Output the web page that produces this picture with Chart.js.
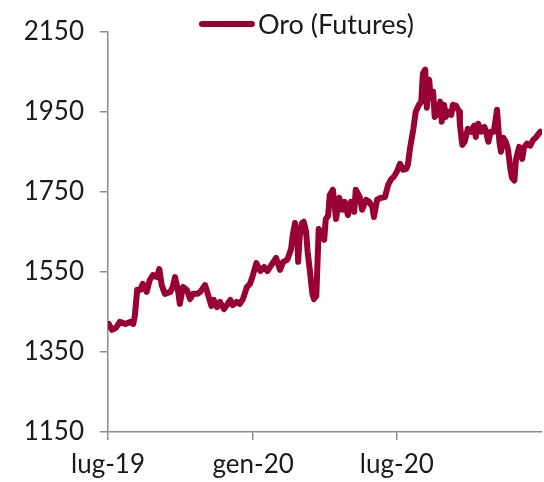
<!DOCTYPE html>
<html>
<head>
<meta charset="utf-8">
<script src="https://cdn.jsdelivr.net/npm/chart.js@4.4.1/dist/chart.umd.min.js"></script>
<style>
  html, body { margin: 0; padding: 0; background: #ffffff; }
  #wrap { width: 544px; height: 482px; position: relative; }
</style>
</head>
<body>
<div id="wrap"><canvas id="c"></canvas></div>
<script>
// Days elapsed since 1 Jul 2019
const days = [1,5,10,15,22,28,32,34,37,41,44,49,53,57,62,65,68,72,79,82,85,89,91,95,100,104,108,113,117,123,127,131,134,138,142,147,151,155,158,163,167,171,176,180,183,188,193,198,202,208,213,218,222,227,229,232,234,237,240,241,243,246,248,251,253,256,259,261,264,266,267,271,274,276,279,281,285,289,293,297,300,304,308,312,314,319,322,327,331,335,337,341,346,351,355,359,362,366,370,374,378,380,383,387,390,394,397,399,402,404,407,409,412,414,417,421,423,426,428,431,435,437,441,445,446,449,452,456,460,464,466,469,473,477,479,482,485,489,493,496,498,501,504,507,510,512,515,517,521,525,527,531,535,539,542,548];
// Gold futures price (USD/oz)
const prices = [1420,1405,1410,1425,1420,1425,1420,1440,1505,1505,1520,1500,1530,1542,1537,1557,1517,1495,1500,1512,1537,1500,1470,1512,1505,1482,1495,1495,1500,1517,1492,1465,1480,1462,1475,1457,1468,1480,1467,1475,1470,1482,1512,1520,1537,1572,1552,1562,1552,1570,1585,1555,1575,1580,1590,1607,1640,1672,1630,1575,1640,1672,1675,1650,1600,1550,1495,1482,1490,1600,1657,1645,1630,1682,1690,1742,1755,1682,1735,1705,1725,1692,1725,1700,1755,1737,1705,1730,1725,1712,1687,1730,1735,1737,1767,1782,1787,1800,1820,1805,1807,1817,1862,1907,1950,1967,1975,2045,2055,1960,2030,1985,2000,1937,1945,1975,1925,1967,1937,1950,1942,1967,1965,1950,1917,1867,1875,1907,1900,1915,1887,1920,1900,1912,1900,1875,1900,1900,1955,1875,1850,1885,1875,1855,1805,1785,1778,1830,1862,1832,1860,1870,1865,1880,1885,1900];
// X tick positions (days since 1 Jul 2019) and labels
const tickDays = [0, 184, 366];
const tickLabels = ['lug-19', 'gen-20', 'lug-20'];
const seriesLabel = 'Oro (Futures)';

const lineColor = '#990033';
const axisColor = '#8c8c8c';
const fontFamily = 'Lato, "Open Sans", sans-serif';

const points = days.map((d, i) => ({ x: d, y: prices[i] }));

const customLegend = {
  id: 'customLegend',
  afterDraw(chart) {
    const ctx = chart.ctx;
    const ds = chart.data.datasets[0];
    ctx.save();
    ctx.strokeStyle = ds.borderColor;
    ctx.lineWidth = 6;
    ctx.lineCap = 'round';
    ctx.beginPath();
    ctx.moveTo(202, 24);
    ctx.lineTo(252, 24);
    ctx.stroke();
    ctx.font = '27px ' + fontFamily;
    ctx.fillStyle = '#1a1a1a';
    ctx.textBaseline = 'middle';
    ctx.textAlign = 'left';
    ctx.fillText(ds.label, 258, 25);
    ctx.restore();
  }
};

new Chart(document.getElementById('c'), {
  type: 'line',
  data: {
    datasets: [{
      label: seriesLabel,
      data: points,
      borderColor: lineColor,
      backgroundColor: lineColor,
      borderWidth: 6,
      pointRadius: 0,
      tension: 0,
      borderJoinStyle: 'round',
      borderCapStyle: 'round'
    }]
  },
  options: {
    responsive: true,
    maintainAspectRatio: false,
    animation: false,
    layout: { padding: { top: 31, right: 2, bottom: 0, left: 0 } },
    plugins: { legend: { display: false }, tooltip: { enabled: false } },
    scales: {
      x: {
        type: 'linear',
        min: 0,
        max: 550,
        afterBuildTicks: (scale) => { scale.ticks = tickDays.map(v => ({ value: v })); },
        afterFit: (scale) => { scale.height = 50; },
        ticks: {
          callback: (v) => { const i = tickDays.indexOf(v); return i >= 0 ? tickLabels[i] : ''; },
          font: { family: fontFamily, size: 26 },
          color: '#1a1a1a',
          padding: 9,
          maxRotation: 0,
          autoSkip: false
        },
        grid: { drawOnChartArea: false, tickLength: 8, color: axisColor, lineWidth: 1.5 },
        border: { display: true, color: axisColor, width: 1.5 }
      },
      y: {
        min: 1150,
        max: 2150,
        afterFit: (scale) => { scale.width = 108; },
        ticks: {
          stepSize: 200,
          callback: (v) => String(v),
          font: { family: fontFamily, size: 26 },
          color: '#1a1a1a',
          padding: 16
        },
        grid: { drawOnChartArea: false, tickLength: 8, color: axisColor, lineWidth: 1.5 },
        border: { display: true, color: axisColor, width: 1.5 }
      }
    }
  },
  plugins: [customLegend]
});
</script>
</body>
</html>
